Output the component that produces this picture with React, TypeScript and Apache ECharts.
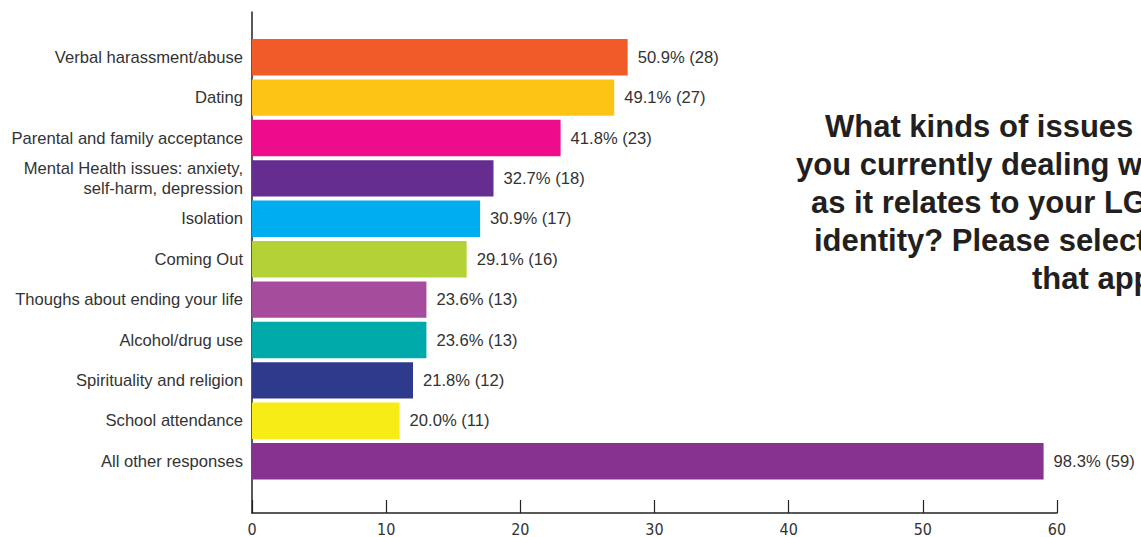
import React, { useEffect, useRef } from "react";
import * as echarts from "echarts";

const categories = [
  "Verbal harassment/abuse",
  "Dating",
  "Parental and family acceptance",
  "Mental Health issues: anxiety,\nself-harm, depression",
  "Isolation",
  "Coming Out",
  "Thoughs about ending your life",
  "Alcohol/drug use",
  "Spirituality and religion",
  "School attendance",
  "All other responses",
];
const counts = [28, 27, 23, 18, 17, 16, 13, 13, 12, 11, 59];
const percents = ["50.9%", "49.1%", "41.8%", "32.7%", "30.9%", "29.1%", "23.6%", "23.6%", "21.8%", "20.0%", "98.3%"];
const colors = [
  "#F15A29", "#FCC516", "#EC0C8C", "#662D91", "#00AEEF", "#B2D235",
  "#A54C9C", "#00A9AA", "#2E3A8C", "#F8EC17", "#87328F",
];
const xTicks = [0, 10, 20, 30, 40, 50, 60];
const titleLines = [
  "What kinds of issues are",
  "you currently dealing with",
  "as it relates to your LGBTQ",
  "identity? Please select all",
  "that apply",
];
const titleStarts = [825, 796, 811, 814, 1032];

export default function App() {
  const ref = useRef<HTMLDivElement>(null);
  useEffect(() => {
    document.body.style.margin = "0";
    const chart = echarts.init(ref.current!, null, { renderer: "svg" });
    const font = "'Liberation Sans', Arial, sans-serif";
    chart.setOption({
      animation: false,
      grid: [
        { left: 252, right: 84, top: 37, height: 444.4, containLabel: false },
        { left: 252, right: 84, top: 12, height: 501, containLabel: false },
      ],
      xAxis: [
        { gridIndex: 0, type: "value", min: xTicks[0], max: xTicks[xTicks.length - 1], interval: 10, show: false },
        {
          gridIndex: 1,
          type: "value",
          min: xTicks[0],
          max: xTicks[xTicks.length - 1],
          interval: 10,
          axisLine: { show: true, lineStyle: { color: "#222", width: 1.5 } },
          axisTick: { show: true, inside: true, length: 13, lineStyle: { color: "#222", width: 1.2 } },
          axisLabel: {
            margin: 8,
            fontSize: 16,
            color: "#333",
            fontFamily: "'Liberation Sans Narrow', 'DejaVu Sans Condensed', sans-serif",
          },
          splitLine: { show: false },
        },
      ],
      yAxis: [
        {
          gridIndex: 0,
          type: "category",
          data: categories,
          inverse: true,
          axisLine: { show: false },
          axisTick: { show: false },
          axisLabel: { margin: 9, fontSize: 16.6, color: "#333", fontFamily: font, lineHeight: 20, align: "right" },
        },
        {
          gridIndex: 1,
          type: "value",
          min: 0,
          max: 1,
          axisLine: { show: true, lineStyle: { color: "#222", width: 1.5 } },
          axisTick: { show: false },
          axisLabel: { show: false },
          splitLine: { show: false },
        },
      ],
      series: [
        {
          type: "bar",
          xAxisIndex: 0,
          yAxisIndex: 0,
          data: counts.map((v, i) => ({ value: v, itemStyle: { color: colors[i] } })),
          barCategoryGap: "10%",
          label: {
            show: true,
            position: "right",
            distance: 10,
            fontSize: 16.6,
            color: "#333",
            fontFamily: font,
            formatter: (p: any) => `${percents[p.dataIndex]} (${counts[p.dataIndex]})`,
          },
        },
      ],
      graphic: titleLines.map((t, i) => ({
        type: "text",
        x: titleStarts[i],
        y: 126 + i * 38,
        style: {
          text: t,
          fontSize: 31,
          fontWeight: "bold",
          fontFamily: font,
          fill: "#231F20",
          align: "left",
          verticalAlign: "middle",
        },
      })),
    });
    return () => chart.dispose();
  }, []);
  return <div ref={ref} style={{ width: 1141, height: 537 }} />;
}
